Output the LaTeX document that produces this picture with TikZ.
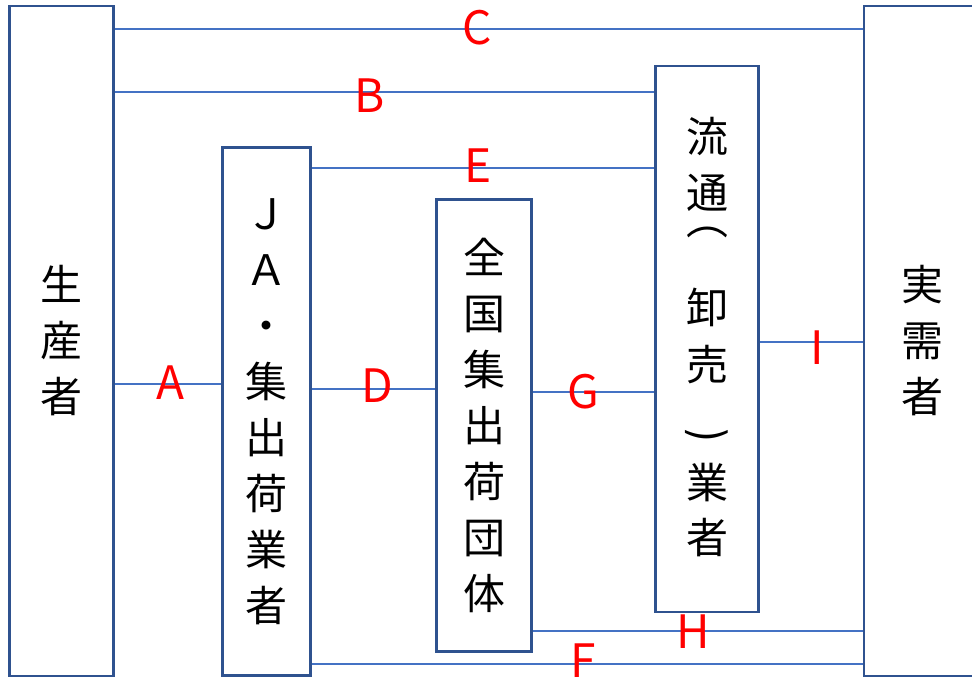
\documentclass[tikz,border=0pt]{standalone}
\usepackage{fontspec}
\setmainfont{Noto Sans CJK JP}
\newfontfamily\djv{DejaVu Sans}
\definecolor{boxblue}{RGB}{47,82,143}
\definecolor{lineblue}{RGB}{68,114,196}
\begin{document}
\begin{tikzpicture}[x=1pt,y=-1pt,
  box/.style={draw=boxblue, line width=2.6pt, fill=white, align=center, inner sep=0pt,
    font=\fontsize{42}{56}\selectfont},
  vtext/.style={inner sep=0pt, font=\fontsize{42}{56}\selectfont},
  brk/.style={inner sep=0pt, font=\fontsize{42}{42}\selectfont},
  conn/.style={draw=lineblue, line width=1.3pt},
  lab/.style={text=red, font=\fontsize{46}{46}\selectfont, inner sep=0pt, anchor=base}]
\useasboundingbox (0,0) rectangle (972,677);
% boxes
\node[box, minimum width=104pt, minimum height=670pt] (sei) at (61.5,341) {生\\産\\者};
\node[box, minimum width=88pt, minimum height=528pt] (ja) at (266.5,411.5) {Ｊ\\Ａ\\・\\集\\出\\荷\\業\\者};
\node[box, minimum width=95pt, minimum height=452pt] (zen) at (484,425.5) {全\\国\\集\\出\\荷\\団\\体};
\node[box, minimum width=103pt, minimum height=546pt] (ryu) at (707,339) {};
\node[vtext] (r1) at (ryu.center |- 0,136) {流};
\node[vtext] (r2) at (ryu.center |- 0,193) {通};
\node[brk] (r3) at (ryu.center |- 0,245) {⌒};
\node[vtext] (r4) at (ryu.center |- 0,307) {卸};
\node[vtext] (r5) at (ryu.center |- 0,365) {売};
\node[brk, font=\djv\fontsize{48}{48}\selectfont] (r6) at (ryu.center |- 0,433) {‿};
\node[vtext] (r7) at (ryu.center |- 0,483) {業};
\node[vtext] (r8) at (ryu.center |- 0,538) {者};
\node[box, minimum width=116pt, minimum height=670pt] (jitsu) at (922,341) {実\\需\\者};
% connectors
\draw[conn] (sei.east |- 0,29) -- (jitsu.west |- 0,29);
\draw[conn] (sei.east |- 0,92) -- (ryu.west |- 0,92);
\draw[conn] (ja.east |- 0,168) -- (ryu.west |- 0,168);
\draw[conn] (sei.east |- 0,384) -- (ja.west |- 0,384);
\draw[conn] (ja.east |- 0,389) -- (zen.west |- 0,389);
\draw[conn] (zen.east |- 0,392) -- (ryu.west |- 0,392);
\draw[conn] (ryu.east |- 0,342) -- (jitsu.west |- 0,342);
\draw[conn] (zen.east |- 0,631) -- (jitsu.west |- 0,631);
\draw[conn] (ja.east |- 0,664) -- (jitsu.west |- 0,664);
% labels
\node[lab] (lc) at (477,45) {C};
\node[lab] (lb) at (370,112) {B};
\node[lab] (le) at (478,182) {E};
\node[lab] (la) at (170,399) {A};
\node[lab] (ld) at (377,402) {D};
\node[lab] (lg) at (583,408) {G};
\node[lab] (li) at (817,364) {I};
\node[lab] (lh) at (693,648) {H};
\node[lab] (lf) at (583,677) {F};
\end{tikzpicture}
\end{document}
